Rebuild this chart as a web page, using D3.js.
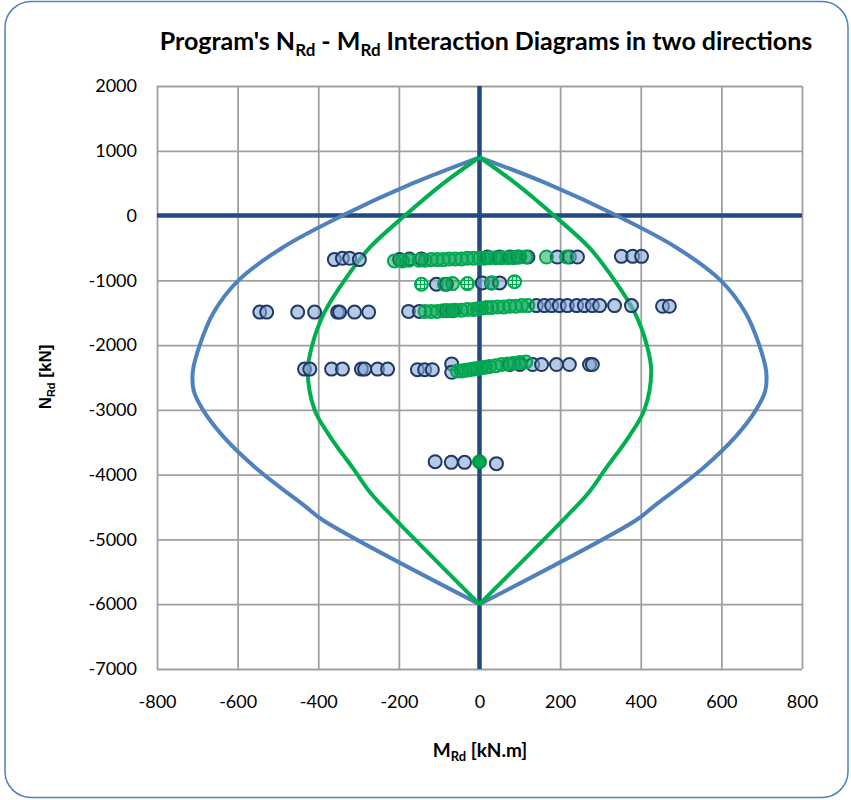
<!DOCTYPE html>
<html>
<head>
<meta charset="utf-8">
<script src="https://cdn.jsdelivr.net/npm/d3@7"></script>
<style>
  body { margin: 0; background: #fff; }
  svg text { font-family: Lato, "Open Sans", sans-serif; }
</style>
</head>
<body>
<div id="chart"></div>
<script>
// chart size and plot box
var width = 851;
var height = 800;
var margin = { top: 86, right: 49, bottom: 131, left: 157 };

// axis ticks
var xTicks = [-800, -600, -400, -200, 0, 200, 400, 600, 800];
var yTicks = [2000, 1000, 0, -1000, -2000, -3000, -4000, -5000, -6000, -7000];

// interaction curves (one half, mirrored about M = 0)
var blueCurveN = [900, 500, 0, -500, -1000, -1500, -2000, -2400, -2700, -3000, -3400, -3900, -4500, -4700, -6000];
var blueCurveM = [0, 165, 340, 490, 598, 660, 694, 711, 709, 686, 637, 554, 430, 389, 0];
var greenCurveN = [900, 500, 0, -500, -1000, -1500, -2000, -2400, -3000, -3400, -3900, -4300, -4650, -6000];
var greenCurveM = [0, 89, 185, 273, 335, 385, 415, 426, 409, 372, 314, 268, 215, 0];

// program points, direction 1 (blue)
var blueM = [
  -360, -340, -322, -298, -198, -174, -144, 20, 50, 75, 95, 120, 193, 223, 243, 352, 380, 402,
  -107, -82, 7, 30, 50,
  -545, -528, -451, -409, -352, -347, -310, -275, -176, -149, -82, -67,
  141, 161, 179, 198, 218, 241, 260, 280, 298, 335, 377, 454, 471,
  -434, -421, -367, -340, -293, -285, -253, -228, -154, -136, -117, -69, -69,
  75, 100, 132, 154, 191, 223, 273, 280,
  -110, -70, -37, 42
];
var blueN = [
  -680, -660, -660, -680, -680, -670, -670, -640, -640, -640, -640, -640, -640, -640, -640, -630, -630, -630,
  -1060, -1060, -1040, -1040, -1040,
  -1490, -1490, -1490, -1490, -1490, -1490, -1490, -1490, -1480, -1480, -1470, -1470,
  -1390, -1390, -1390, -1390, -1390, -1390, -1390, -1390, -1390, -1390, -1390, -1400, -1400,
  -2370, -2370, -2370, -2370, -2370, -2370, -2370, -2370, -2380, -2380, -2380, -2290, -2420,
  -2300, -2300, -2300, -2300, -2300, -2300, -2300, -2300,
  -3800, -3810, -3810, -3830
];

// program points, direction 2 (green)
var greenM = [
  -211, -191, -175, -150, -135, -120, -105, -90, -75, -60, -45, -30, -15, 0, 12, 25, 40, 55, 70, 85, 100, 115, 166, 216,
  -87, -67, 30,
  -135, -120, -105, -90, -75, -60, -45, -30, -15, -5, 5, 18, 30, 45, 60, 75, 90, 105, 120,
  -55, -45, -35, -25, -15, -5, 5, 15, 25, 40, 55, 70, 85, 100, 115
];
var greenN = [
  -700, -700, -690, -690, -690, -680, -680, -680, -670, -670, -670, -660, -660, -660, -660, -650, -650, -650, -650, -650, -640, -640, -640, -640,
  -1060, -1050, -1040,
  -1480, -1480, -1480, -1470, -1470, -1460, -1460, -1450, -1450, -1440, -1430, -1420, -1420, -1410, -1410, -1400, -1400, -1390, -1390,
  -2400, -2400, -2390, -2380, -2370, -2360, -2350, -2340, -2330, -2320, -2300, -2290, -2280, -2270, -2260
];
var hatchM = [-144, -30, 87];
var hatchN = [-1060, -1050, -1020];
var solidM = [0];
var solidN = [-3800];

var plotW = width - margin.left - margin.right;
var plotH = height - margin.top - margin.bottom;

var svg = d3.select('#chart')
  .append('svg')
  .attr('width', width)
  .attr('height', height);

// hatch pattern for the checked markers
var pat = svg.append('defs').append('pattern')
  .attr('id', 'hatch')
  .attr('width', 4).attr('height', 4)
  .attr('patternUnits', 'userSpaceOnUse');
pat.append('rect').attr('width', 4).attr('height', 4).attr('fill', '#cdebd6');
pat.append('path').attr('d', 'M0,0.5H4M0.5,0V4').attr('stroke', '#00a84f').attr('stroke-width', 1);

// outer frame
svg.append('rect')
  .attr('x', 5).attr('y', 1.5)
  .attr('width', 843).attr('height', 796)
  .attr('rx', 26)
  .attr('fill', '#fff')
  .attr('stroke', '#4f81bd')
  .attr('stroke-width', 1.5);

var x = d3.scaleLinear().domain([-800, 800]).range([margin.left, margin.left + plotW]);
var y = d3.scaleLinear().domain([-7000, 2000]).range([margin.top + plotH, margin.top]);

// gridlines
svg.append('g')
  .attr('transform', 'translate(0,' + (margin.top + plotH) + ')')
  .call(d3.axisBottom(x).tickValues(xTicks).tickSize(-plotH).tickFormat(''))
  .call(function(g) { g.select('.domain').remove(); })
  .selectAll('line').attr('stroke', '#a0a0a0').attr('stroke-width', 1.8);

svg.append('g')
  .attr('transform', 'translate(' + margin.left + ',0)')
  .call(d3.axisLeft(y).tickValues(yTicks).tickSize(-plotW).tickFormat(''))
  .call(function(g) { g.select('.domain').remove(); })
  .selectAll('line').attr('stroke', '#a0a0a0').attr('stroke-width', 1.8);

// tick labels
var xAxis = svg.append('g')
  .attr('transform', 'translate(0,' + (margin.top + plotH) + ')')
  .call(d3.axisBottom(x).tickValues(xTicks).tickSize(0).tickPadding(26).tickFormat(function(d) { return String(d); }));
xAxis.select('.domain').remove();
xAxis.selectAll('text').attr('font-size', 18).attr('fill', '#000').style('font-family', 'Lato, sans-serif');

var yAxis = svg.append('g')
  .attr('transform', 'translate(' + margin.left + ',0)')
  .call(d3.axisLeft(y).tickValues(yTicks).tickSize(0).tickPadding(20).tickFormat(function(d) { return String(d); }));
yAxis.select('.domain').remove();
yAxis.selectAll('text').attr('font-size', 18).attr('fill', '#000').style('font-family', 'Lato, sans-serif');

// zero axes
svg.append('line')
  .attr('x1', x(-800)).attr('x2', x(800))
  .attr('y1', y(0)).attr('y2', y(0))
  .attr('stroke', '#234a80').attr('stroke-width', 4.5);
svg.append('line')
  .attr('x1', x(0)).attr('x2', x(0))
  .attr('y1', y(2000)).attr('y2', y(-7000))
  .attr('stroke', '#234a80').attr('stroke-width', 4.5);

// curves
function halfCurve(ms, ns, sign) {
  return ns.map(function(n, i) { return [sign * ms[i], n]; });
}
var line = d3.line()
  .x(function(d) { return x(d[0]); })
  .y(function(d) { return y(d[1]); })
  .curve(d3.curveCatmullRom.alpha(0.5));

[[blueCurveM, blueCurveN, '#4f81bd'], [greenCurveM, greenCurveN, '#00b050']].forEach(function(c) {
  [-1, 1].forEach(function(s) {
    svg.append('path')
      .datum(halfCurve(c[0], c[1], s))
      .attr('d', line)
      .attr('fill', 'none')
      .attr('stroke', c[2])
      .attr('stroke-width', 4)
      .attr('stroke-linejoin', 'round');
  });
});

// points
function drawPoints(ms, ns, fill, stroke) {
  svg.append('g').selectAll('circle')
    .data(ms.map(function(m, i) { return [m, ns[i]]; }))
    .enter()
    .append('circle')
    .attr('cx', function(d) { return x(d[0]); })
    .attr('cy', function(d) { return y(d[1]); })
    .attr('r', 6.5)
    .attr('fill', fill)
    .attr('stroke', stroke)
    .attr('stroke-width', 2);
}
drawPoints(blueM, blueN, 'rgba(134,166,214,0.6)', '#1f3864');
drawPoints(greenM, greenN, 'rgba(0,160,75,0.5)', '#00a84f');
drawPoints(hatchM, hatchN, 'url(#hatch)', '#00a84f');
drawPoints(solidM, solidN, '#00a84f', '#00923f');

// title
var title = svg.append('text')
  .attr('x', 486).attr('y', 50)
  .attr('text-anchor', 'middle')
  .attr('font-size', 25)
  .attr('font-weight', 'bold')
  .attr('fill', '#000');
title.append('tspan').text("Program's N");
title.append('tspan').attr('font-size', 17).attr('dy', 6).text('Rd');
title.append('tspan').attr('dy', -6).text(' - M');
title.append('tspan').attr('font-size', 17).attr('dy', 6).text('Rd');
title.append('tspan').attr('dy', -6).text(' Interaction Diagrams in two directions');

// axis titles
var xl = svg.append('text')
  .attr('x', 480).attr('y', 757)
  .attr('text-anchor', 'middle')
  .attr('font-size', 19)
  .attr('font-weight', 'bold');
xl.append('tspan').text('M');
xl.append('tspan').attr('font-size', 13).attr('dy', 4).text('Rd');
xl.append('tspan').attr('dy', -4).text(' [kN.m]');

var yl = svg.append('text')
  .attr('transform', 'translate(51,377) rotate(-90)')
  .attr('text-anchor', 'middle')
  .attr('font-size', 17)
  .attr('font-weight', 'bold')
  .style('font-family', '"Liberation Sans", Arial, sans-serif');
yl.append('tspan').text('N');
yl.append('tspan').attr('font-size', 11).attr('dy', 4).text('Rd');
yl.append('tspan').attr('dy', -4).text(' [kN]');
</script>
</body>
</html>
